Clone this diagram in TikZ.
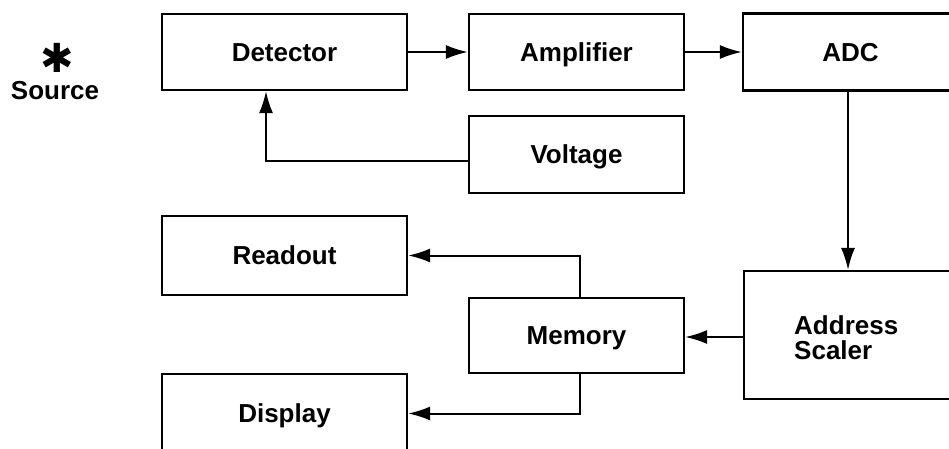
\documentclass[tikz,border=0pt]{standalone}
\usepackage{fontspec}
\setmainfont{Liberation Sans}
\newfontfamily\symfont{DejaVu Sans}
\usetikzlibrary{arrows.meta}
\begin{document}
\begin{tikzpicture}[x=1pt,y=-1pt,
  blk/.style={draw=black, line width=2.2pt, inner sep=0pt, font=\fontsize{26}{30}\selectfont\bfseries},
  one/.style={text height=24pt, text depth=5.4pt},
  arr/.style={draw=black, line width=2pt, -{Latex[length=22pt,width=14pt]}},
  lbl/.style={inner sep=0pt, font=\fontsize{26}{30}\selectfont\bfseries}]
\useasboundingbox (0,0) rectangle (949,448);
\clip (0,0) rectangle (949,448);
\node[blk, one, minimum width=245pt, minimum height=76pt] (det) at (284.5,52) {Detector};
\node[blk, one, minimum width=215pt, minimum height=76pt] (amp) at (576.5,52) {Amplifier};
\node[blk, one, minimum width=215pt, minimum height=77pt] (adc) at (850.5,52) {ADC};
\node[blk, one, minimum width=215pt, minimum height=77pt] (vol) at (576.5,154.5) {Voltage};
\node[blk, one, minimum width=245pt, minimum height=79pt] (rea) at (284.5,255.5) {Readout};
\node[blk, one, minimum width=215pt, minimum height=75pt] (mem) at (576.5,335.5) {Memory};
\node[blk, minimum width=215pt, minimum height=128pt] (adr) at (851.5,335) {};
\node[lbl, align=left, anchor=west] (adrt) at (794,338) {Address\\[-5pt]Scaler};
\node[blk, one, minimum width=245pt, minimum height=79pt] (dis) at (284.5,413.5) {Display};
\node[lbl] (star) at (57,58) {\symfont\fontsize{40}{40}\selectfont ✱};
\node[lbl] (src) at (55,91) {Source};
\draw[arr] (det.east) -- (amp.west);
\draw[arr] (amp.east) -- (adc.west);
\draw[arr] ([xshift=-2.5pt]adc.south) -- ([xshift=-2.5pt]adc.south |- adr.north);
\draw[arr] ([yshift=-2pt]adr.west) -- ([yshift=-2pt]adr.west -| mem.east);
\draw[arr] ([yshift=-6.5pt]vol.west) -| ([xshift=-18.5pt]det.south);
\draw[arr] ([xshift=3.5pt]mem.north) |- (rea.east);
\draw[arr] ([xshift=3.5pt]mem.south) |- (dis.east);
\end{tikzpicture}
\end{document}
